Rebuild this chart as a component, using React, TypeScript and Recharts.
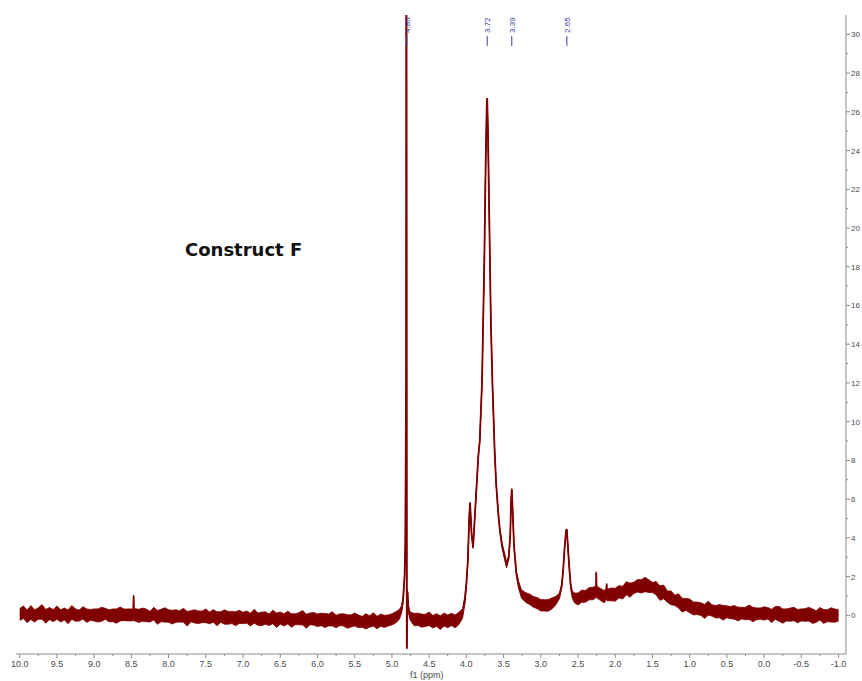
import React from "react";
import { ComposedChart, Area, Line, Scatter, XAxis, YAxis } from "recharts";

// each row: [ppm, intensity, noise above, noise below]
const baselineLow: number[][] = [
  [10.0, 0.05, 0.3, 0.32], [9.95, 0.1, 0.38, 0.27], [9.9, 0.02, 0.25, 0.4], [9.85, 0.08, 0.42, 0.3], [9.8, 0.0, 0.28, 0.35],
  [9.75, 0.06, 0.33, 0.26], [9.7, 0.1, 0.45, 0.31], [9.65, 0.03, 0.27, 0.44], [9.6, 0.05, 0.35, 0.28], [9.55, 0.0, 0.3, 0.33],
  [9.5, 0.08, 0.4, 0.29], [9.45, 0.02, 0.26, 0.37], [9.4, 0.05, 0.33, 0.3], [9.35, -0.02, 0.29, 0.42], [9.3, 0.06, 0.44, 0.27],
  [9.25, 0.03, 0.3, 0.34], [9.2, 0.0, 0.27, 0.3], [9.15, 0.07, 0.37, 0.26], [9.1, 0.02, 0.31, 0.39], [9.05, 0.04, 0.26, 0.3],
  [9.0, -0.02, 0.35, 0.28], [8.95, 0.05, 0.28, 0.4], [8.9, 0.0, 0.41, 0.31], [8.85, 0.06, 0.3, 0.27], [8.8, 0.02, 0.26, 0.36],
  [8.75, -0.03, 0.36, 0.3], [8.7, 0.04, 0.29, 0.45], [8.65, 0.0, 0.43, 0.29], [8.6, 0.05, 0.27, 0.33], [8.55, 0.01, 0.32, 0.3],
  [8.5, 0.03, 0.3, 0.32], [8.475, 0.03, 0.3, 0.32], [8.47, 1.0, 0.05, 0.97], [8.465, 0.03, 0.3, 0.32],
  [8.45, 0.0, 0.34, 0.3], [8.4, 0.04, 0.27, 0.41], [8.35, -0.03, 0.4, 0.28], [8.3, 0.02, 0.3, 0.35], [8.25, -0.05, 0.25, 0.3],
  [8.2, 0.03, 0.38, 0.27], [8.15, -0.04, 0.29, 0.43], [8.1, -0.02, 0.33, 0.31], [8.05, -0.06, 0.45, 0.29], [8.0, 0.0, 0.28, 0.36],
  [7.95, -0.05, 0.31, 0.4], [7.9, -0.08, 0.36, 0.28], [7.85, -0.02, 0.26, 0.33], [7.8, -0.06, 0.42, 0.3], [7.75, -0.1, 0.3, 0.46],
  [7.7, -0.04, 0.28, 0.29], [7.65, -0.08, 0.37, 0.32], [7.6, -0.05, 0.27, 0.38], [7.55, -0.11, 0.33, 0.27], [7.5, -0.07, 0.4, 0.31],
  [7.45, -0.1, 0.27, 0.34], [7.4, -0.06, 0.35, 0.3], [7.35, -0.12, 0.3, 0.42], [7.3, -0.08, 0.26, 0.28], [7.25, -0.13, 0.41, 0.33],
  [7.2, -0.09, 0.29, 0.37], [7.15, -0.14, 0.34, 0.29], [7.1, -0.1, 0.28, 0.44], [7.05, -0.12, 0.38, 0.3], [7.0, -0.15, 0.3, 0.28],
  [6.95, -0.11, 0.33, 0.3], [6.9, -0.16, 0.27, 0.39], [6.85, -0.13, 0.44, 0.28], [6.8, -0.18, 0.3, 0.34], [6.75, -0.12, 0.28, 0.42],
  [6.7, -0.17, 0.35, 0.29], [6.65, -0.2, 0.26, 0.33], [6.6, -0.14, 0.4, 0.3], [6.55, -0.18, 0.3, 0.45], [6.5, -0.15, 0.32, 0.31],
  [6.45, -0.2, 0.28, 0.36], [6.4, -0.16, 0.37, 0.29], [6.35, -0.22, 0.3, 0.4], [6.3, -0.18, 0.26, 0.31], [6.25, -0.21, 0.34, 0.28],
  [6.2, -0.17, 0.42, 0.33], [6.15, -0.23, 0.28, 0.44], [6.1, -0.19, 0.31, 0.3], [6.05, -0.22, 0.36, 0.29], [6.0, -0.2, 0.27, 0.38],
  [5.95, -0.24, 0.35, 0.3], [5.9, -0.2, 0.29, 0.43], [5.85, -0.26, 0.33, 0.29], [5.8, -0.22, 0.4, 0.33], [5.75, -0.27, 0.27, 0.38],
  [5.7, -0.23, 0.3, 0.3], [5.65, -0.28, 0.36, 0.28], [5.6, -0.25, 0.28, 0.42], [5.55, -0.3, 0.32, 0.31], [5.5, -0.26, 0.38, 0.29],
  [5.45, -0.29, 0.3, 0.35], [5.4, -0.32, 0.26, 0.3], [5.35, -0.27, 0.35, 0.44], [5.3, -0.31, 0.29, 0.31], [5.25, -0.28, 0.41, 0.28],
  [5.2, -0.33, 0.28, 0.37], [5.15, -0.27, 0.33, 0.3], [5.1, -0.3, 0.3, 0.33], [5.05, -0.25, 0.27, 0.3], [5.0, -0.22, 0.3, 0.28],
];

// residual water at 4.80, the 3.72 / 3.39 / 2.65 multiplets and the small 2.25 and 2.11 lines
const peakRegion: number[][] = [
  [4.95, -0.1, 0.28, 0.3], [4.9, 0.05, 0.25, 0.26], [4.87, 0.3, 0.2, 0.2], [4.85, 0.8, 0.15, 0.15], [4.83, 2.0, 0.1, 0.1],
  [4.82, 3.6, 0.08, 0.08], [4.81, 12, 0.05, 0.05], [4.805, 40, 0, 0], [4.8, -1.7, 0.05, 0.05], [4.79, 1.2, 0.1, 0.1],
  [4.78, 0.4, 0.15, 0.15], [4.76, 0.0, 0.2, 0.2], [4.73, -0.15, 0.28, 0.25], [4.7, -0.2, 0.3, 0.34], [4.65, -0.25, 0.36, 0.28],
  [4.6, -0.22, 0.28, 0.4], [4.55, -0.28, 0.33, 0.3], [4.5, -0.24, 0.41, 0.29], [4.45, -0.3, 0.29, 0.36], [4.4, -0.27, 0.35, 0.31],
  [4.35, -0.31, 0.28, 0.42], [4.3, -0.26, 0.38, 0.3], [4.25, -0.29, 0.3, 0.35], [4.2, -0.24, 0.34, 0.29], [4.15, -0.27, 0.29, 0.38],
  [4.1, -0.18, 0.33, 0.3], [4.05, 0.1, 0.25, 0.25], [4.02, 0.8, 0.2, 0.2], [4.0, 1.6, 0.15, 0.15], [3.98, 2.8, 0.1, 0.1],
  [3.96, 5.2, 0.08, 0.08], [3.95, 5.8, 0.05, 0.05], [3.93, 4.2, 0.05, 0.05], [3.91, 3.5, 0.05, 0.05], [3.88, 5.5, 0.05, 0.05],
  [3.84, 8.2, 0.05, 0.05], [3.82, 9.0, 0.05, 0.05], [3.79, 12.0, 0.03, 0.03], [3.76, 18.0, 0.03, 0.03], [3.74, 23.5, 0.03, 0.03],
  [3.725, 26.5, 0, 0], [3.72, 26.7, 0, 0], [3.71, 25.0, 0.03, 0.03], [3.69, 20.0, 0.03, 0.03], [3.67, 15.0, 0.03, 0.03],
  [3.65, 12.0, 0.03, 0.03], [3.62, 8.5, 0.05, 0.05], [3.6, 6.8, 0.05, 0.05], [3.57, 5.2, 0.08, 0.08], [3.55, 4.4, 0.1, 0.1],
  [3.52, 3.6, 0.12, 0.12], [3.49, 3.1, 0.15, 0.15], [3.46, 2.6, 0.15, 0.15], [3.43, 3.0, 0.1, 0.1], [3.41, 4.2, 0.08, 0.08],
  [3.4, 5.8, 0.05, 0.05], [3.39, 6.5, 0.05, 0.05], [3.38, 5.6, 0.05, 0.05], [3.36, 3.6, 0.08, 0.08], [3.33, 2.2, 0.12, 0.12],
  [3.3, 1.6, 0.18, 0.18], [3.26, 1.1, 0.22, 0.22], [3.2, 0.9, 0.26, 0.24], [3.15, 0.8, 0.3, 0.25], [3.1, 0.72, 0.25, 0.3],
  [3.05, 0.6, 0.32, 0.26], [3.0, 0.55, 0.27, 0.33], [2.95, 0.5, 0.3, 0.28], [2.9, 0.55, 0.26, 0.34], [2.85, 0.6, 0.3, 0.27],
  [2.8, 0.75, 0.22, 0.22], [2.75, 1.0, 0.15, 0.15], [2.72, 1.5, 0.1, 0.1], [2.7, 2.3, 0.08, 0.08], [2.68, 3.5, 0.05, 0.05],
  [2.66, 4.4, 0.05, 0.05], [2.65, 4.4, 0.05, 0.05], [2.64, 3.8, 0.05, 0.05], [2.62, 2.6, 0.08, 0.08], [2.6, 1.6, 0.12, 0.12],
  [2.58, 1.1, 0.18, 0.18], [2.55, 0.9, 0.25, 0.25], [2.5, 0.85, 0.3, 0.32], [2.45, 0.95, 0.35, 0.28], [2.4, 1.0, 0.28, 0.33],
  [2.35, 1.1, 0.33, 0.3], [2.3, 1.15, 0.3, 0.35], [2.26, 1.2, 0.3, 0.3], [2.255, 2.2, 0.05, 1.0], [2.25, 1.2, 0.3, 0.3],
  [2.2, 1.05, 0.34, 0.28], [2.15, 1.0, 0.28, 0.36], [2.12, 1.1, 0.3, 0.3], [2.115, 1.6, 0.05, 0.5], [2.11, 1.05, 0.3, 0.3],
  [2.05, 1.05, 0.36, 0.3], [2.0, 1.1, 0.3, 0.37],
];

// broad hump near 1.6 ppm and the high-field baseline
const baselineHigh: number[][] = [
  [1.95, 1.2, 0.33, 0.3], [1.9, 1.22, 0.28, 0.38], [1.85, 1.33, 0.4, 0.27], [1.8, 1.36, 0.3, 0.43], [1.75, 1.45, 0.26, 0.32],
  [1.7, 1.48, 0.37, 0.28], [1.65, 1.55, 0.29, 0.4], [1.6, 1.52, 0.44, 0.3], [1.55, 1.53, 0.31, 0.35], [1.5, 1.43, 0.27, 0.26],
  [1.45, 1.38, 0.36, 0.33], [1.4, 1.22, 0.3, 0.45], [1.35, 1.14, 0.42, 0.29], [1.3, 0.98, 0.28, 0.31], [1.25, 0.92, 0.34, 0.38],
  [1.2, 0.78, 0.26, 0.27], [1.15, 0.72, 0.39, 0.34], [1.1, 0.58, 0.3, 0.42], [1.05, 0.54, 0.33, 0.28], [1.0, 0.43, 0.41, 0.3],
  [0.95, 0.42, 0.27, 0.4], [0.9, 0.33, 0.35, 0.29], [0.85, 0.35, 0.3, 0.36], [0.8, 0.28, 0.28, 0.44], [0.75, 0.3, 0.43, 0.3],
  [0.7, 0.23, 0.31, 0.27], [0.65, 0.25, 0.26, 0.39], [0.6, 0.18, 0.37, 0.31], [0.55, 0.21, 0.3, 0.46], [0.5, 0.15, 0.34, 0.28],
  [0.45, 0.17, 0.28, 0.35], [0.4, 0.1, 0.4, 0.3], [0.35, 0.13, 0.29, 0.42], [0.3, 0.08, 0.33, 0.27], [0.25, 0.14, 0.27, 0.37],
  [0.2, 0.08, 0.45, 0.3], [0.15, 0.11, 0.3, 0.44], [0.1, 0.06, 0.32, 0.29], [0.05, 0.12, 0.26, 0.33], [0.0, 0.06, 0.38, 0.31],
  [-0.05, 0.09, 0.31, 0.28], [-0.1, 0.03, 0.28, 0.41], [-0.15, 0.09, 0.36, 0.3], [-0.2, 0.04, 0.42, 0.35], [-0.25, 0.06, 0.27, 0.47],
  [-0.3, 0.0, 0.33, 0.29], [-0.35, 0.07, 0.3, 0.38], [-0.4, 0.02, 0.39, 0.3], [-0.45, 0.04, 0.26, 0.43], [-0.5, -0.02, 0.35, 0.27],
  [-0.55, 0.05, 0.29, 0.36], [-0.6, 0.0, 0.41, 0.3], [-0.65, 0.03, 0.3, 0.45], [-0.7, -0.04, 0.27, 0.32], [-0.75, 0.03, 0.37, 0.28],
  [-0.8, -0.02, 0.32, 0.4], [-0.85, 0.01, 0.28, 0.34], [-0.9, -0.05, 0.44, 0.3], [-0.95, 0.02, 0.3, 0.38], [-1.0, 0.0, 0.3, 0.3],
];

const peakPicks = ["4.80", "3.72", "3.39", "2.65"];

const xMajorTicks = [10.0, 9.5, 9.0, 8.5, 8.0, 7.5, 7.0, 6.5, 6.0, 5.5, 5.0, 4.5, 4.0, 3.5, 3.0, 2.5, 2.0, 1.5, 1.0, 0.5, 0.0, -0.5, -1.0];
const xMinorTicks = [9.75, 9.25, 8.75, 8.25, 7.75, 7.25, 6.75, 6.25, 5.75, 5.25, 4.75, 4.25, 3.75, 3.25, 2.75, 2.25, 1.75, 1.25, 0.75, 0.25, -0.25, -0.75];
const yMajorTicks = [0, 2, 4, 6, 8, 10, 12, 14, 16, 18, 20, 22, 24, 26, 28, 30];
const yMinorTicks = [1, 3, 5, 7, 9, 11, 13, 15, 17, 19, 21, 23, 25, 27, 29];

const TRACE = "#800000";
const AXIS = "#8c8c8c";
const TICK_TEXT = "#4a4a4a";
const PICK = "#3b3b9e";

const rows = [...baselineLow, ...peakRegion, ...baselineHigh].map(([p, v, up, down]) => ({
  ppm: p,
  y: v,
  band: [v - down, v + up],
}));

const pickRows = peakPicks.map((t) => ({ ppm: parseFloat(t), y: 29.4, text: t }));

function XTick(props: any) {
  const { x, y, payload } = props;
  const major = xMajorTicks.includes(payload.value);
  return (
    <g>
      <line x1={x} x2={x} y1={y} y2={y + (major ? 4 : 2)} stroke={AXIS} />
      {major && (
        <text x={x} y={y + 13} textAnchor="middle" fontSize={9} fill={TICK_TEXT} fontFamily="Liberation Sans, sans-serif">
          {payload.value.toFixed(1)}
        </text>
      )}
    </g>
  );
}

function YTick(props: any) {
  const { x, y, payload } = props;
  const major = yMajorTicks.includes(payload.value);
  return (
    <g>
      <line x1={x} x2={x + (major ? 4 : 2)} y1={y} y2={y} stroke={AXIS} />
      {major && (
        <text x={x + 5} y={y + 3} textAnchor="start" fontSize={8} fill={TICK_TEXT} fontFamily="Liberation Sans, sans-serif">
          {payload.value}
        </text>
      )}
    </g>
  );
}

function PeakPick(props: any) {
  const { cx, cy, payload } = props;
  return (
    <g>
      <line x1={cx} x2={cx} y1={cy} y2={cy - 10} stroke={PICK} strokeWidth={1} />
      <text
        x={cx}
        y={cy - 13}
        transform={`rotate(-90 ${cx} ${cy - 13})`}
        dy={3}
        textAnchor="start"
        fontSize={8}
        fill={PICK}
        fontFamily="Liberation Sans, sans-serif"
      >
        {payload.text}
      </text>
    </g>
  );
}

export default function App() {
  return (
    <div style={{ position: "absolute", left: 0, top: 0, width: 862, height: 681, background: "#fff" }}>
      <ComposedChart width={862} height={681} data={rows} margin={{ top: 15, right: 0, bottom: 0, left: 16 }}>
        <XAxis
          type="number"
          dataKey="ppm"
          domain={[-1.1, 10.05]}
          reversed
          allowDataOverflow
          ticks={[...xMajorTicks, ...xMinorTicks]}
          interval={0}
          tickSize={0}
          tickMargin={0}
          tick={<XTick />}
          height={27}
          axisLine={{ stroke: AXIS }}
        />
        <YAxis
          orientation="right"
          type="number"
          domain={[-2, 31]}
          allowDataOverflow
          ticks={[...yMajorTicks, ...yMinorTicks]}
          interval={0}
          tickSize={0}
          tickMargin={0}
          tick={<YTick />}
          width={16}
          axisLine={{ stroke: AXIS }}
        />
        <Area type="linear" dataKey="band" stroke={TRACE} strokeWidth={0.8} fill={TRACE} fillOpacity={1} isAnimationActive={false} />
        <Line type="linear" dataKey="y" stroke={TRACE} strokeWidth={1.8} dot={false} isAnimationActive={false} />
        <Scatter data={pickRows} dataKey="y" shape={<PeakPick />} isAnimationActive={false} />
      </ComposedChart>
      <div
        style={{
          position: "absolute",
          left: 185,
          top: 241,
          fontFamily: "DejaVu Sans, sans-serif",
          fontWeight: "bold",
          fontSize: 18,
          lineHeight: "18px",
          color: "#111",
        }}
      >
        Construct F
      </div>
      <div
        style={{
          position: "absolute",
          left: 410,
          top: 670,
          fontFamily: "Liberation Sans, sans-serif",
          fontSize: 9,
          lineHeight: "10px",
          color: TICK_TEXT,
        }}
      >
        f1 (ppm)
      </div>
    </div>
  );
}
